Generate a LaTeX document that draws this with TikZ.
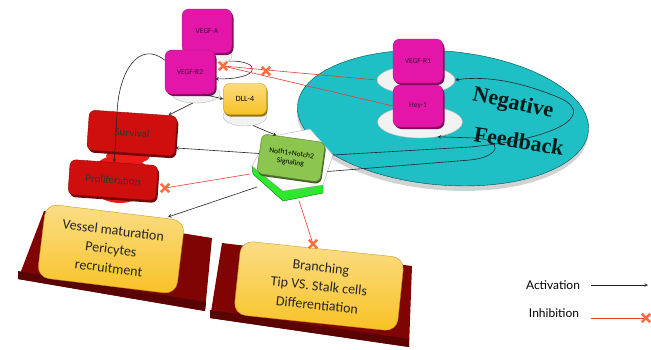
\documentclass[tikz,border=0pt]{standalone}
\usepackage{fontspec}
\setmainfont{Carlito}
\newfontfamily\fbfont{Liberation Serif}
\newfontfamily\legendfont{Lato}
\usetikzlibrary{positioning,shapes.misc,shapes.geometric,calc}

\definecolor{vegfpink}{RGB}{228,22,170}
\definecolor{fbcyan}{RGB}{30,192,198}
\definecolor{cellred}{RGB}{208,14,14}
\definecolor{blobred}{RGB}{238,26,26}
\definecolor{boxyellow}{RGB}{248,194,36}
\definecolor{platered}{RGB}{128,4,4}
\definecolor{notchgreen}{RGB}{140,198,78}
\definecolor{slabgreen}{RGB}{46,232,46}
\definecolor{inhred}{RGB}{236,58,48}
\definecolor{xorange}{RGB}{246,112,64}

\begin{document}
\begin{tikzpicture}[x=1pt,y=-1pt,>=stealth,
  receptor/.style={fill=vegfpink,draw=vegfpink!75!black,rounded corners=7pt,
    minimum width=50pt,minimum height=44pt,font=\fontsize{7.5}{8}\selectfont,
    text=black!70!vegfpink,
    preaction={fill=vegfpink!55!black,transform canvas={xshift=1.5pt,yshift=-2pt}}},
  ligand/.style={top color=boxyellow!60!white,bottom color=boxyellow,draw=boxyellow!80!black,
    rounded corners=6pt,minimum width=43pt,minimum height=31pt,font=\fontsize{8}{9}\selectfont,
    preaction={fill=boxyellow!60!black,transform canvas={xshift=1pt,yshift=-2pt}}},
  disc/.style={ellipse,fill=gray!10,draw=gray!55,inner sep=0pt},
  cell/.style={fill=cellred,draw=cellred!70!black,rounded corners=6pt,rotate=-4,
    font=\fontsize{11}{12}\selectfont,text=black!80,
    preaction={fill=cellred!55!black,transform canvas={xshift=1.5pt,yshift=-2.5pt}}},
  outcome/.style={top color=boxyellow!55!white,bottom color=boxyellow,draw=boxyellow!80!black,
    rounded corners=12pt,align=center,font=\fontsize{14}{19}\selectfont,text=black!85},
  act/.style={->,black!85,semithick},
  inh/.style={inhred,semithick},
  xmark/.style={cross out,draw=xorange,line width=2.2pt,minimum size=6pt,inner sep=0pt},
]
\useasboundingbox (0,0) rectangle (651,349);

% negative feedback plate
\fill[gray!35,rotate around={-5:(443,118)}] (443,123) ellipse [x radius=146, y radius=67];
\filldraw[fill=fbcyan,draw=teal!60!black,rotate around={-5:(443,118)}] (443,118) ellipse [x radius=146, y radius=67];

\node[rotate=-12,inner sep=1pt,font=\fbfont\bfseries\fontsize{22}{23}\selectfont,text=black!80!teal] (neg) at (513,104) {Negative};
\node[rotate=-9,inner sep=1pt,font=\fbfont\bfseries\fontsize{22}{23}\selectfont,text=black!80!teal] (fb) at (519,141) {Feedback};

% receptors
\node[disc,minimum width=24pt,minimum height=14pt] (vad) at (220,56) {};
\node[receptor] (va) at (207,31) {VEGF-A};
\node[disc,minimum width=48pt,minimum height=18pt] (vr2d) at (196,94) {};
\node[receptor] (vr2) at (190,72) {VEGF-R2};
\node[disc,minimum width=44pt,minimum height=20pt] (dlld) at (245,116) {};
\node[ligand] (dll) at (245,99) {DLL-4};

\node[disc,minimum width=78pt,minimum height=28pt] (vr1d) at (416,80) {};
\node[receptor] (vr1) at (418,61) {VEGF-R1};
\node[disc,minimum width=85pt,minimum height=32pt] (hyd) at (420,122) {};
\node[receptor,minimum height=42pt] (hey) at (418,106) {Hey-1};

% cell responses
\fill[blobred] (120,179) ellipse [x radius=31, y radius=24];
\fill[blobred] (128,156) ellipse [x radius=22, y radius=8];
\node[cell,minimum width=88pt,minimum height=40pt] (surv) at (132,133) {Survival};
\node[cell,minimum width=88pt,minimum height=35pt] (prol) at (113,180) {Proliferation};

% notch hexagon
\coordinate (h1) at (252,166);
\coordinate (h2) at (268,137);
\coordinate (h3) at (310,129);
\coordinate (h4) at (333,155);
\coordinate (h5) at (323,185);
\coordinate (h6) at (283,191);
\filldraw[fill=slabgreen,draw=green!45!black] (h1) -- (h6) -- (h5) -- ($(h5)+(0,8)$) -- ($(h6)+(0,10)$) -- ($(h1)+(1,8)$) -- cycle;
\filldraw[fill=white,draw=gray!60] (h1) -- (h2) -- (h3) -- (h4) -- (h5) -- (h6) -- cycle;
\node[fill=notchgreen,draw=notchgreen!60!black,rounded corners=6pt,minimum width=64pt,
  minimum height=40pt,rotate=-8,align=center,font=\fontsize{7.5}{9}\selectfont,
  preaction={fill=notchgreen!50!black,transform canvas={xshift=1pt,yshift=-2pt}}] (nb) at (291,158) {Noth1+Notch2\\Signaling};

% outcome plates
\fill[platered] (44,211) -- (212,238) -- (205,311) -- (18,279) -- cycle;
\fill[platered!70!black] (18,271) -- (206,302) -- (205,311) -- (18,279) -- cycle;
\node[outcome,minimum width=140pt,minimum height=74pt,rotate=-7] (vm) at (111,249) {Vessel maturation\\Pericytes\\recruitment};

\fill[platered] (222,243) -- (412,266) -- (409,347) -- (210,318) -- cycle;
\fill[platered!70!black] (210,310) -- (409,339) -- (409,347) -- (210,318) -- cycle;
\node[outcome,minimum width=164pt,minimum height=74pt,rotate=-6] (br) at (319,286) {Branching\\Tip VS. Stalk cells\\Differentiation};

% activations
\draw[act] (vad.south east) .. controls (262,60) and (262,80) .. (vr2.-15);
\draw[act] (vr2.155) .. controls (140,40) and (118,70) .. (117,115) -- (prol.north);
\draw[act] (vr2d.250) -- (surv.30);
\draw[act] (vr2.-60) -- (dll.west);
\draw[act] (dlld.-50) -- ($(h2)!0.2!(h3)$);
\draw[act] (nb.west) -- (surv.-15);
\coordinate (vmt) at (168,217);
\draw[act] (257,187) -- (vmt);
\draw[act] (h4) -- (470,147) .. controls (565,138) and (598,112) .. (555,96) .. controls (525,84) and (490,75) .. (vr1d.east);
\draw[act] ($(h4)!0.55!(h5)$) -- (470,160) .. controls (500,157) and (505,140) .. (475,138) -- (hyd.-40);

% inhibitions
\node[xmark] (x1) at (223,66) {};
\node[xmark] (x2) at (266,71) {};
\node[xmark] (px) at (165,188) {};
\node[xmark] (bx) at (313,244) {};
\draw[inh] (hey.west) -- (x1.center);
\draw[inh] (vr1d.west) -- (x1.center);
\draw[inh] ($(h1)+(-2,8)$) -- (px.center);
\draw[inh] ($(h6)!0.4!(h5)+(0,12)$) -- (bx.center);
\node[xmark] at (x1) {};
\node[xmark] at (x2) {};
\node[xmark] at (px) {};
\node[xmark] at (bx) {};

% legend
\node[font=\legendfont\fontsize{12}{14}\selectfont] (actl) at (553,285) {Activation};
\coordinate (acte) at (648,285);
\draw[act] ([xshift=8pt]actl.east) -- (acte);
\node[font=\legendfont\fontsize{12}{14}\selectfont] (inhl) at (554,313) {Inhibition};
\node[xmark] (lx) at (646,318) {};
\draw[inh] ([xshift=8pt,yshift=-5pt]inhl.east) -- (lx.center);
\node[xmark] at (lx) {};

\end{tikzpicture}
\end{document}
